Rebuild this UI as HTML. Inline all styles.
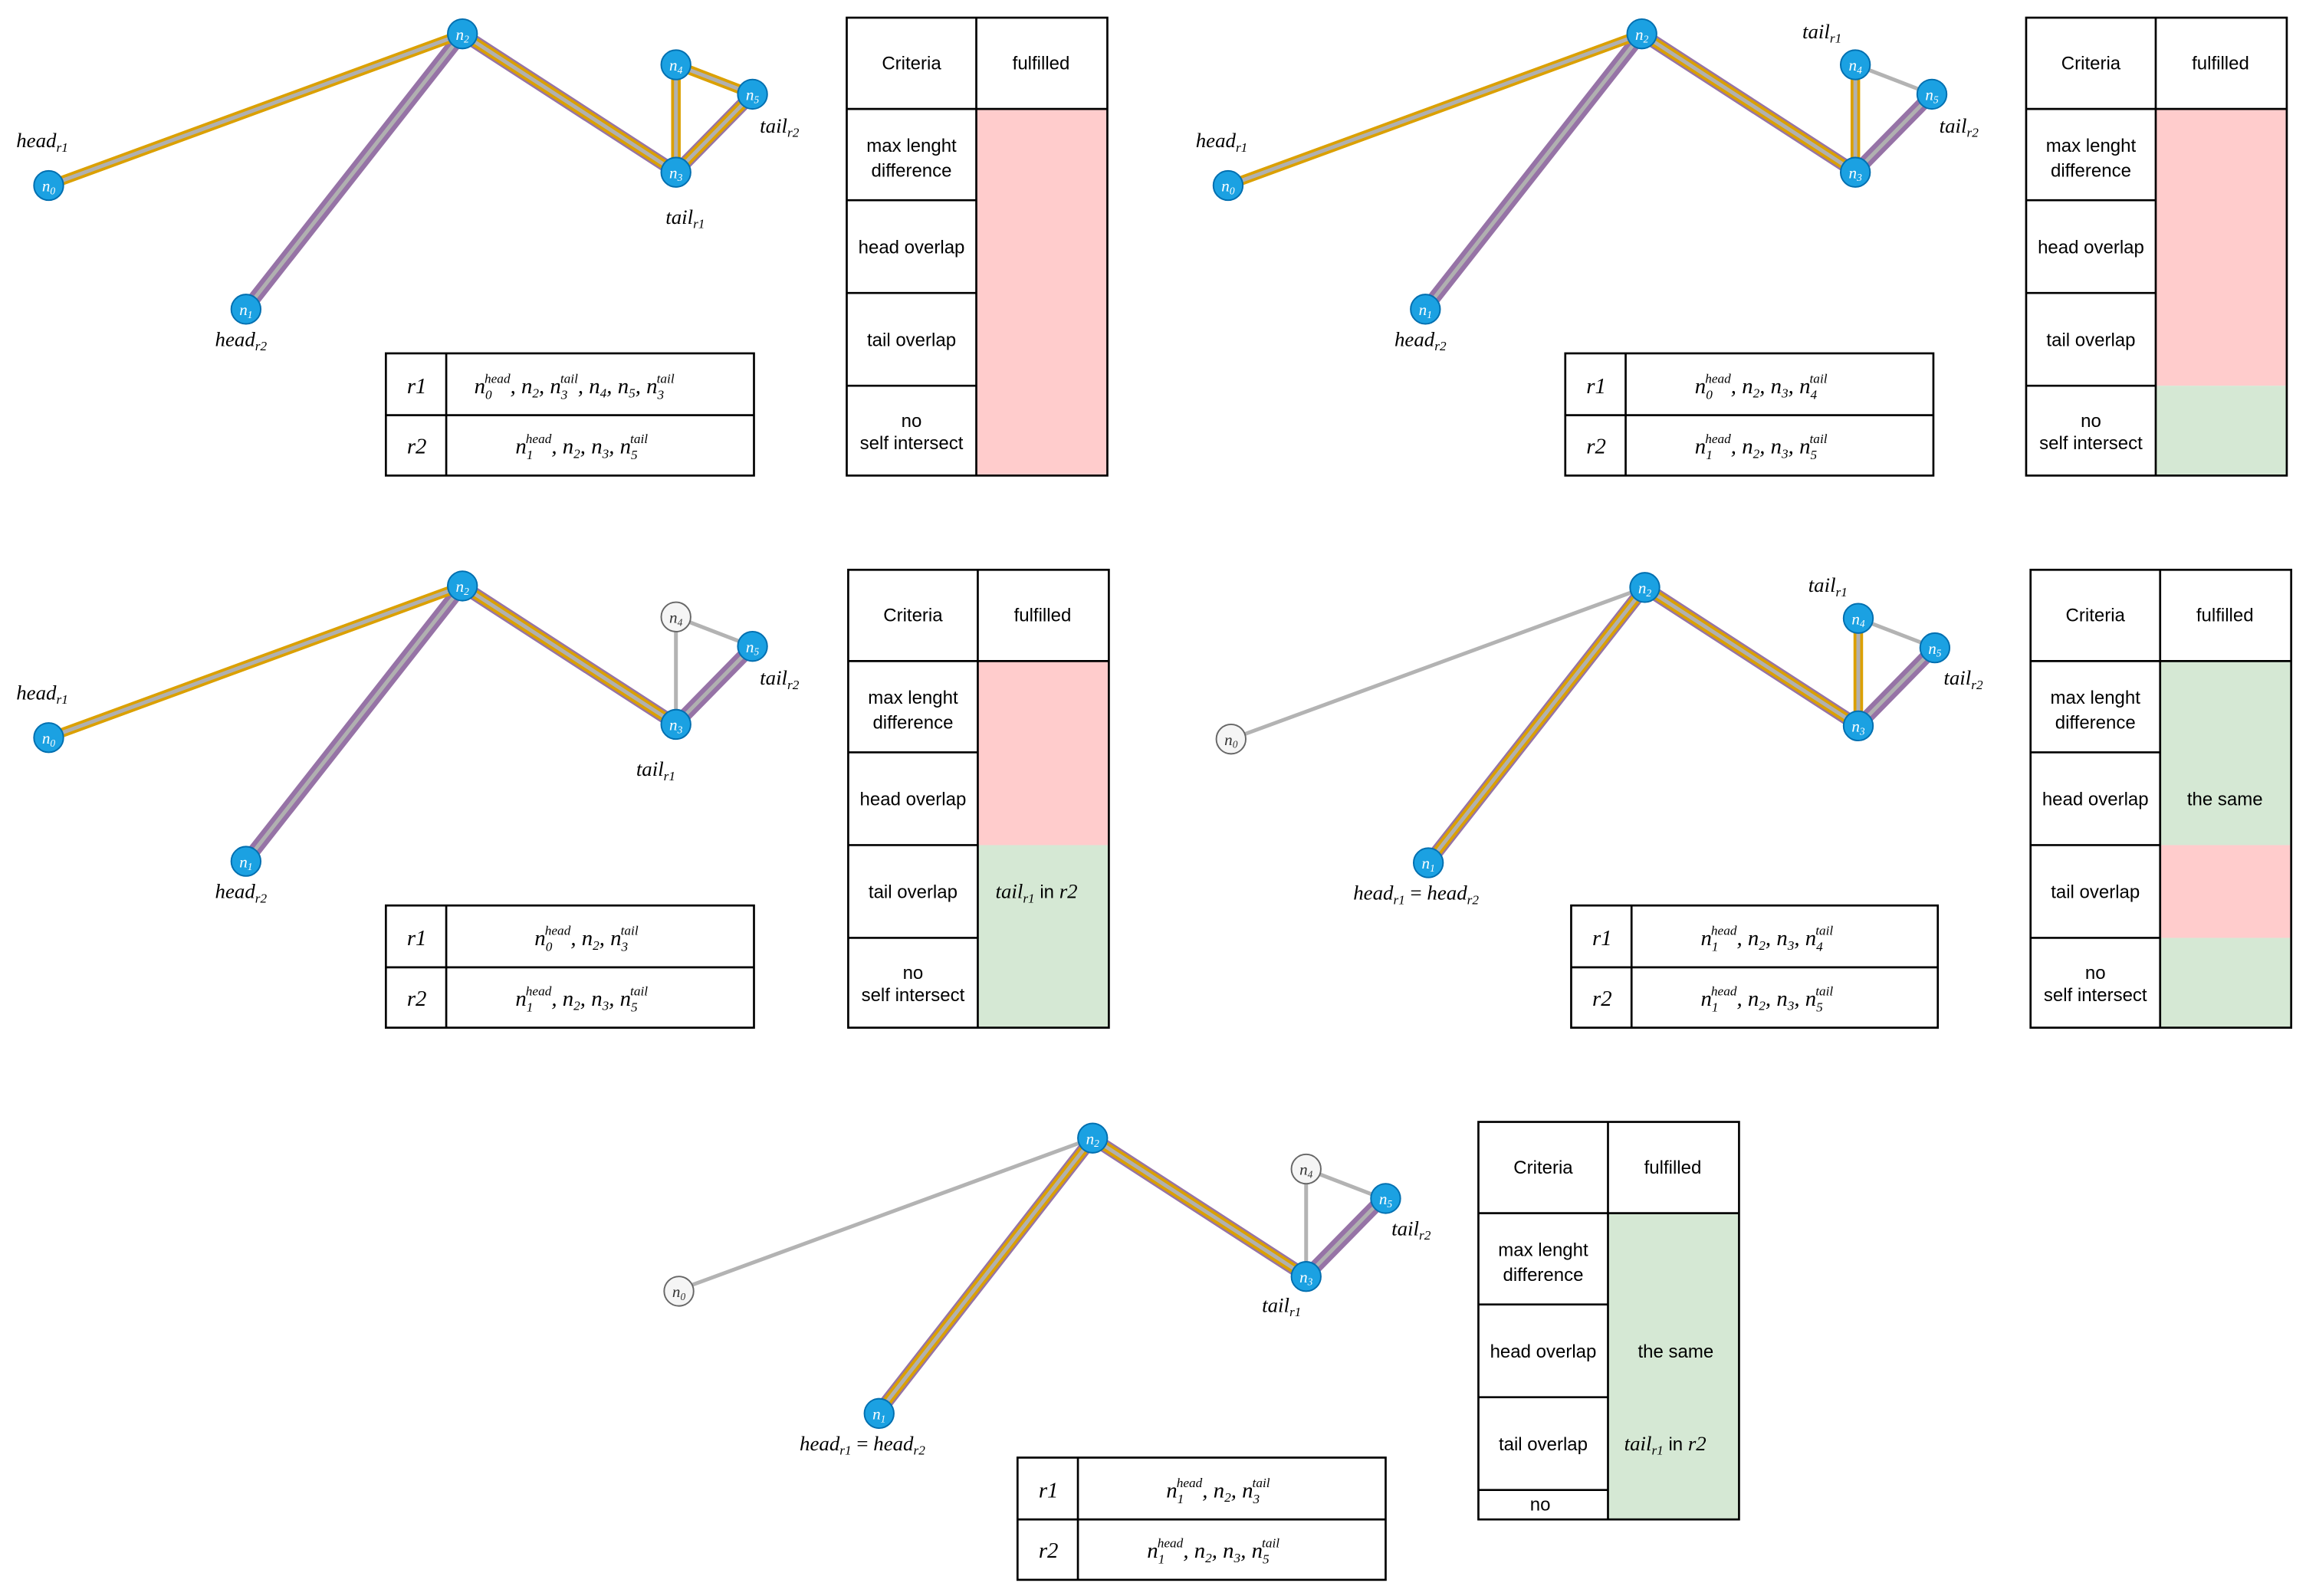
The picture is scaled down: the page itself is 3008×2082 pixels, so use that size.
<!DOCTYPE html>
<html><head><meta charset="utf-8"><style>
html,body{margin:0;padding:0;background:#fff}
svg{display:block}
.m{font-family:"Liberation Serif",serif;font-style:italic;fill:#000}
.s{font-family:"Liberation Sans",sans-serif;fill:#000;font-size:12.5px;text-anchor:middle}
.nl{font-family:"Liberation Serif",serif;font-style:italic;fill:#fff;font-size:11px;text-anchor:middle}
.nw{fill:#333}
.pg{fill:none;stroke:#b3b3b3;stroke-width:2.6}
.pp{fill:none;stroke:#9673a6;stroke-width:9}
.po{fill:none;stroke:#dba000;stroke-width:6.5}
.pc{fill:none;stroke:#b0b0b0;stroke-width:2.6}
.nd{fill:#1ba1e2;stroke:#006eaf;stroke-width:1}
.ndw{fill:#f5f5f5;stroke:#666;stroke-width:1}
.tb{fill:#fff;stroke:#000;stroke-width:1.4}
</style></head><body>
<svg width="3008" height="2082" viewBox="0 0 1566 1084" xmlns="http://www.w3.org/2000/svg">
<defs>
<g id="crit">
<rect x="575" y="12" width="177" height="311" class="tb"/>
</g>
</defs>

<!-- PANEL 1 -->
<g transform="translate(0,0)">
<path class="pp" d="M167,210L314,23L459,117L511,64"/>
<path class="po" d="M33,126L314,23L459,117L459,44L511,64L459,117"/>
<path class="pc" d="M33,126L314,23L459,117L459,44L511,64L459,117M167,210L314,23"/>
<circle cx="33" cy="126" r="10" class="nd"/><text x="33" y="130" class="nl">n<tspan font-size="7" dy="2">0</tspan></text>
<circle cx="167" cy="210" r="10" class="nd"/><text x="167" y="214" class="nl">n<tspan font-size="7" dy="2">1</tspan></text>
<circle cx="314" cy="23" r="10" class="nd"/><text x="314" y="27" class="nl">n<tspan font-size="7" dy="2">2</tspan></text>
<circle cx="459" cy="117" r="10" class="nd"/><text x="459" y="121" class="nl">n<tspan font-size="7" dy="2">3</tspan></text>
<circle cx="459" cy="44" r="10" class="nd"/><text x="459" y="48" class="nl">n<tspan font-size="7" dy="2">4</tspan></text>
<circle cx="511" cy="64" r="10" class="nd"/><text x="511" y="68" class="nl">n<tspan font-size="7" dy="2">5</tspan></text>
<text x="11" y="100" class="m" font-size="14">head<tspan font-size="9" dy="3">r1</tspan></text>
<text x="146" y="235" class="m" font-size="14">head<tspan font-size="9" dy="3">r2</tspan></text>
<text x="452" y="152" class="m" font-size="14">tail<tspan font-size="9" dy="3">r1</tspan></text>
<text x="516" y="90" class="m" font-size="14">tail<tspan font-size="9" dy="3">r2</tspan></text>
<rect x="262" y="240" width="250" height="83" class="tb"/><line x1="303" y1="240" x2="303" y2="323" stroke="#000" stroke-width="1.4"/><line x1="262" y1="282" x2="512" y2="282" stroke="#000" stroke-width="1.4"/>
<text x="283" y="267" class="m" font-size="15" text-anchor="middle">r1</text>
<text x="283" y="308" class="m" font-size="15" text-anchor="middle">r2</text>
<text x="322" y="267" class="m" font-size="15">n<tspan font-size="9" dy="4">0</tspan><tspan font-size="9" dy="-11" dx="-5">head</tspan><tspan dy="7">, n</tspan><tspan font-size="9" dy="3">2</tspan><tspan dy="-3">, n</tspan><tspan font-size="9" dy="4">3</tspan><tspan font-size="9" dy="-11" dx="-5">tail</tspan><tspan dy="7">, n</tspan><tspan font-size="9" dy="3">4</tspan><tspan dy="-3">, n</tspan><tspan font-size="9" dy="3">5</tspan><tspan dy="-3">, n</tspan><tspan font-size="9" dy="4">3</tspan><tspan font-size="9" dy="-11" dx="-5">tail</tspan></text>
<text x="350" y="308" class="m" font-size="15">n<tspan font-size="9" dy="4">1</tspan><tspan font-size="9" dy="-11" dx="-5">head</tspan><tspan dy="7">, n</tspan><tspan font-size="9" dy="3">2</tspan><tspan dy="-3">, n</tspan><tspan font-size="9" dy="3">3</tspan><tspan dy="-3">, n</tspan><tspan font-size="9" dy="4">5</tspan><tspan font-size="9" dy="-11" dx="-5">tail</tspan></text>
<rect x="663" y="74" width="89" height="249" fill="#ffcccc"/>
<rect x="575" y="12" width="177" height="311" fill="none" stroke="#000" stroke-width="1.4"/>
<path d="M663,12V323M575,74H752M575,136H663M575,199H663M575,262H663" stroke="#000" stroke-width="1.4" fill="none"/>
<text x="619" y="47" class="s">Criteria</text><text x="707" y="47" class="s">fulfilled</text>
<text x="619" y="103" class="s">max lenght</text><text x="619" y="120" class="s">difference</text>
<text x="619" y="172" class="s">head overlap</text>
<text x="619" y="235" class="s">tail overlap</text>
<text x="619" y="290" class="s">no</text><text x="619" y="305" class="s">self intersect</text>
</g>

<!-- PANEL 2 -->
<g transform="translate(801,0)">
<path class="pg" d="M459,44L511,64"/>
<path class="pp" d="M167,210L314,23L459,117L511,64"/>
<path class="po" d="M33,126L314,23L459,117L459,44"/>
<path class="pc" d="M33,126L314,23L459,117L459,44M167,210L314,23M459,117L511,64"/>
<circle cx="33" cy="126" r="10" class="nd"/><text x="33" y="130" class="nl">n<tspan font-size="7" dy="2">0</tspan></text>
<circle cx="167" cy="210" r="10" class="nd"/><text x="167" y="214" class="nl">n<tspan font-size="7" dy="2">1</tspan></text>
<circle cx="314" cy="23" r="10" class="nd"/><text x="314" y="27" class="nl">n<tspan font-size="7" dy="2">2</tspan></text>
<circle cx="459" cy="117" r="10" class="nd"/><text x="459" y="121" class="nl">n<tspan font-size="7" dy="2">3</tspan></text>
<circle cx="459" cy="44" r="10" class="nd"/><text x="459" y="48" class="nl">n<tspan font-size="7" dy="2">4</tspan></text>
<circle cx="511" cy="64" r="10" class="nd"/><text x="511" y="68" class="nl">n<tspan font-size="7" dy="2">5</tspan></text>
<text x="11" y="100" class="m" font-size="14">head<tspan font-size="9" dy="3">r1</tspan></text>
<text x="146" y="235" class="m" font-size="14">head<tspan font-size="9" dy="3">r2</tspan></text>
<text x="423" y="26" class="m" font-size="14">tail<tspan font-size="9" dy="3">r1</tspan></text>
<text x="516" y="90" class="m" font-size="14">tail<tspan font-size="9" dy="3">r2</tspan></text>
<rect x="262" y="240" width="250" height="83" class="tb"/><line x1="303" y1="240" x2="303" y2="323" stroke="#000" stroke-width="1.4"/><line x1="262" y1="282" x2="512" y2="282" stroke="#000" stroke-width="1.4"/>
<text x="283" y="267" class="m" font-size="15" text-anchor="middle">r1</text>
<text x="283" y="308" class="m" font-size="15" text-anchor="middle">r2</text>
<text x="350" y="267" class="m" font-size="15">n<tspan font-size="9" dy="4">0</tspan><tspan font-size="9" dy="-11" dx="-5">head</tspan><tspan dy="7">, n</tspan><tspan font-size="9" dy="3">2</tspan><tspan dy="-3">, n</tspan><tspan font-size="9" dy="3">3</tspan><tspan dy="-3">, n</tspan><tspan font-size="9" dy="4">4</tspan><tspan font-size="9" dy="-11" dx="-5">tail</tspan></text>
<text x="350" y="308" class="m" font-size="15">n<tspan font-size="9" dy="4">1</tspan><tspan font-size="9" dy="-11" dx="-5">head</tspan><tspan dy="7">, n</tspan><tspan font-size="9" dy="3">2</tspan><tspan dy="-3">, n</tspan><tspan font-size="9" dy="3">3</tspan><tspan dy="-3">, n</tspan><tspan font-size="9" dy="4">5</tspan><tspan font-size="9" dy="-11" dx="-5">tail</tspan></text>
<rect x="663" y="74" width="89" height="188" fill="#ffcccc"/>
<rect x="663" y="262" width="89" height="61" fill="#d5e8d4"/>
<rect x="575" y="12" width="177" height="311" fill="none" stroke="#000" stroke-width="1.4"/>
<path d="M663,12V323M575,74H752M575,136H663M575,199H663M575,262H663" stroke="#000" stroke-width="1.4" fill="none"/>
<text x="619" y="47" class="s">Criteria</text><text x="707" y="47" class="s">fulfilled</text>
<text x="619" y="103" class="s">max lenght</text><text x="619" y="120" class="s">difference</text>
<text x="619" y="172" class="s">head overlap</text>
<text x="619" y="235" class="s">tail overlap</text>
<text x="619" y="290" class="s">no</text><text x="619" y="305" class="s">self intersect</text>
</g>

<!-- PANEL 3 -->
<g transform="translate(0,375)">
<path class="pg" d="M459,117L459,44L511,64"/>
<path class="pp" d="M167,210L314,23L459,117L511,64"/>
<path class="po" d="M33,126L314,23L459,117"/>
<path class="pc" d="M33,126L314,23L459,117L511,64M167,210L314,23"/>
<circle cx="33" cy="126" r="10" class="nd"/><text x="33" y="130" class="nl">n<tspan font-size="7" dy="2">0</tspan></text>
<circle cx="167" cy="210" r="10" class="nd"/><text x="167" y="214" class="nl">n<tspan font-size="7" dy="2">1</tspan></text>
<circle cx="314" cy="23" r="10" class="nd"/><text x="314" y="27" class="nl">n<tspan font-size="7" dy="2">2</tspan></text>
<circle cx="459" cy="117" r="10" class="nd"/><text x="459" y="121" class="nl">n<tspan font-size="7" dy="2">3</tspan></text>
<circle cx="459" cy="44" r="10" class="ndw"/><text x="459" y="48" class="nl nw">n<tspan font-size="7" dy="2">4</tspan></text>
<circle cx="511" cy="64" r="10" class="nd"/><text x="511" y="68" class="nl">n<tspan font-size="7" dy="2">5</tspan></text>
<text x="11" y="100" class="m" font-size="14">head<tspan font-size="9" dy="3">r1</tspan></text>
<text x="146" y="235" class="m" font-size="14">head<tspan font-size="9" dy="3">r2</tspan></text>
<text x="432" y="152" class="m" font-size="14">tail<tspan font-size="9" dy="3">r1</tspan></text>
<text x="516" y="90" class="m" font-size="14">tail<tspan font-size="9" dy="3">r2</tspan></text>
<rect x="262" y="240" width="250" height="83" class="tb"/><line x1="303" y1="240" x2="303" y2="323" stroke="#000" stroke-width="1.4"/><line x1="262" y1="282" x2="512" y2="282" stroke="#000" stroke-width="1.4"/>
<text x="283" y="267" class="m" font-size="15" text-anchor="middle">r1</text>
<text x="283" y="308" class="m" font-size="15" text-anchor="middle">r2</text>
<text x="363" y="267" class="m" font-size="15">n<tspan font-size="9" dy="4">0</tspan><tspan font-size="9" dy="-11" dx="-5">head</tspan><tspan dy="7">, n</tspan><tspan font-size="9" dy="3">2</tspan><tspan dy="-3">, n</tspan><tspan font-size="9" dy="4">3</tspan><tspan font-size="9" dy="-11" dx="-5">tail</tspan></text>
<text x="350" y="308" class="m" font-size="15">n<tspan font-size="9" dy="4">1</tspan><tspan font-size="9" dy="-11" dx="-5">head</tspan><tspan dy="7">, n</tspan><tspan font-size="9" dy="3">2</tspan><tspan dy="-3">, n</tspan><tspan font-size="9" dy="3">3</tspan><tspan dy="-3">, n</tspan><tspan font-size="9" dy="4">5</tspan><tspan font-size="9" dy="-11" dx="-5">tail</tspan></text>
<g transform="translate(1,0)">
<rect x="663" y="74" width="89" height="125" fill="#ffcccc"/>
<rect x="663" y="199" width="89" height="124" fill="#d5e8d4"/>
<rect x="575" y="12" width="177" height="311" fill="none" stroke="#000" stroke-width="1.4"/>
<path d="M663,12V323M575,74H752M575,136H663M575,199H663M575,262H663" stroke="#000" stroke-width="1.4" fill="none"/>
<text x="619" y="47" class="s">Criteria</text><text x="707" y="47" class="s">fulfilled</text>
<text x="619" y="103" class="s">max lenght</text><text x="619" y="120" class="s">difference</text>
<text x="619" y="172" class="s">head overlap</text>
<text x="619" y="235" class="s">tail overlap</text>
<text x="619" y="290" class="s">no</text><text x="619" y="305" class="s">self intersect</text>
<text x="675" y="235" class="m" font-size="14">tail<tspan font-size="9" dy="3">r1</tspan><tspan dy="-3" font-style="normal" font-family="Liberation Sans" font-size="12.5"> in </tspan>r2</text>
</g>
</g>

<!-- PANEL 4 -->
<g transform="translate(803,376)">
<path class="pg" d="M33,126L314,23M459,44L511,64"/>
<path class="pp" d="M167,210L314,23L459,117L511,64"/>
<path class="po" d="M167,210L314,23L459,117L459,44"/>
<path class="pc" d="M167,210L314,23L459,117L459,44M459,117L511,64"/>
<circle cx="33" cy="126" r="10" class="ndw"/><text x="33" y="130" class="nl nw">n<tspan font-size="7" dy="2">0</tspan></text>
<circle cx="167" cy="210" r="10" class="nd"/><text x="167" y="214" class="nl">n<tspan font-size="7" dy="2">1</tspan></text>
<circle cx="314" cy="23" r="10" class="nd"/><text x="314" y="27" class="nl">n<tspan font-size="7" dy="2">2</tspan></text>
<circle cx="459" cy="117" r="10" class="nd"/><text x="459" y="121" class="nl">n<tspan font-size="7" dy="2">3</tspan></text>
<circle cx="459" cy="44" r="10" class="nd"/><text x="459" y="48" class="nl">n<tspan font-size="7" dy="2">4</tspan></text>
<circle cx="511" cy="64" r="10" class="nd"/><text x="511" y="68" class="nl">n<tspan font-size="7" dy="2">5</tspan></text>
<text x="116" y="235" class="m" font-size="14">head<tspan font-size="9" dy="3">r1</tspan><tspan dy="-3" font-style="normal"> = </tspan>head<tspan font-size="9" dy="3">r2</tspan></text>
<text x="425" y="26" class="m" font-size="14">tail<tspan font-size="9" dy="3">r1</tspan></text>
<text x="517" y="89" class="m" font-size="14">tail<tspan font-size="9" dy="3">r2</tspan></text>
<rect x="264" y="239" width="249" height="83" class="tb"/><line x1="305" y1="239" x2="305" y2="322" stroke="#000" stroke-width="1.4"/><line x1="264" y1="281" x2="513" y2="281" stroke="#000" stroke-width="1.4"/>
<text x="285" y="266" class="m" font-size="15" text-anchor="middle">r1</text>
<text x="285" y="307" class="m" font-size="15" text-anchor="middle">r2</text>
<text x="352" y="266" class="m" font-size="15">n<tspan font-size="9" dy="4">1</tspan><tspan font-size="9" dy="-11" dx="-5">head</tspan><tspan dy="7">, n</tspan><tspan font-size="9" dy="3">2</tspan><tspan dy="-3">, n</tspan><tspan font-size="9" dy="3">3</tspan><tspan dy="-3">, n</tspan><tspan font-size="9" dy="4">4</tspan><tspan font-size="9" dy="-11" dx="-5">tail</tspan></text>
<text x="352" y="307" class="m" font-size="15">n<tspan font-size="9" dy="4">1</tspan><tspan font-size="9" dy="-11" dx="-5">head</tspan><tspan dy="7">, n</tspan><tspan font-size="9" dy="3">2</tspan><tspan dy="-3">, n</tspan><tspan font-size="9" dy="3">3</tspan><tspan dy="-3">, n</tspan><tspan font-size="9" dy="4">5</tspan><tspan font-size="9" dy="-11" dx="-5">tail</tspan></text>
<g transform="translate(1,-1)">
<rect x="663" y="74" width="89" height="125" fill="#d5e8d4"/>
<rect x="663" y="199" width="89" height="63" fill="#ffcccc"/>
<rect x="663" y="262" width="89" height="61" fill="#d5e8d4"/>
<rect x="575" y="12" width="177" height="311" fill="none" stroke="#000" stroke-width="1.4"/>
<path d="M663,12V323M575,74H752M575,136H663M575,199H663M575,262H663" stroke="#000" stroke-width="1.4" fill="none"/>
<text x="619" y="47" class="s">Criteria</text><text x="707" y="47" class="s">fulfilled</text>
<text x="619" y="103" class="s">max lenght</text><text x="619" y="120" class="s">difference</text>
<text x="619" y="172" class="s">head overlap</text>
<text x="619" y="235" class="s">tail overlap</text>
<text x="619" y="290" class="s">no</text><text x="619" y="305" class="s">self intersect</text>
<text x="707" y="172" class="s">the same</text>
</g>
</g>

<!-- PANEL 5 -->
<g transform="translate(428,750)">
<path class="pg" d="M33,126L314,23M459,117L459,44L511,64"/>
<path class="pp" d="M168,210L314,23L459,117L511,64"/>
<path class="po" d="M168,210L314,23L459,117"/>
<path class="pc" d="M168,210L314,23L459,117L511,64"/>
<circle cx="33" cy="127" r="10" class="ndw"/><text x="33" y="131" class="nl nw">n<tspan font-size="7" dy="2">0</tspan></text>
<circle cx="169" cy="210" r="10" class="nd"/><text x="169" y="214" class="nl">n<tspan font-size="7" dy="2">1</tspan></text>
<circle cx="314" cy="23" r="10" class="nd"/><text x="314" y="27" class="nl">n<tspan font-size="7" dy="2">2</tspan></text>
<circle cx="459" cy="117" r="10" class="nd"/><text x="459" y="121" class="nl">n<tspan font-size="7" dy="2">3</tspan></text>
<circle cx="459" cy="44" r="10" class="ndw"/><text x="459" y="48" class="nl nw">n<tspan font-size="7" dy="2">4</tspan></text>
<circle cx="513" cy="64" r="10" class="nd"/><text x="513" y="68" class="nl">n<tspan font-size="7" dy="2">5</tspan></text>
<text x="115" y="235" class="m" font-size="14">head<tspan font-size="9" dy="3">r1</tspan><tspan dy="-3" font-style="normal"> = </tspan>head<tspan font-size="9" dy="3">r2</tspan></text>
<text x="429" y="141" class="m" font-size="14">tail<tspan font-size="9" dy="3">r1</tspan></text>
<text x="517" y="89" class="m" font-size="14">tail<tspan font-size="9" dy="3">r2</tspan></text>
<rect x="263" y="240" width="250" height="83" class="tb"/><line x1="304" y1="240" x2="304" y2="323" stroke="#000" stroke-width="1.4"/><line x1="263" y1="282" x2="513" y2="282" stroke="#000" stroke-width="1.4"/>
<text x="284" y="267" class="m" font-size="15" text-anchor="middle">r1</text>
<text x="284" y="308" class="m" font-size="15" text-anchor="middle">r2</text>
<text x="364" y="267" class="m" font-size="15">n<tspan font-size="9" dy="4">1</tspan><tspan font-size="9" dy="-11" dx="-5">head</tspan><tspan dy="7">, n</tspan><tspan font-size="9" dy="3">2</tspan><tspan dy="-3">, n</tspan><tspan font-size="9" dy="4">3</tspan><tspan font-size="9" dy="-11" dx="-5">tail</tspan></text>
<text x="351" y="308" class="m" font-size="15">n<tspan font-size="9" dy="4">1</tspan><tspan font-size="9" dy="-11" dx="-5">head</tspan><tspan dy="7">, n</tspan><tspan font-size="9" dy="3">2</tspan><tspan dy="-3">, n</tspan><tspan font-size="9" dy="3">3</tspan><tspan dy="-3">, n</tspan><tspan font-size="9" dy="4">5</tspan><tspan font-size="9" dy="-11" dx="-5">tail</tspan></text>
<g transform="translate(1,0)">
<rect x="663" y="74" width="89" height="208" fill="#d5e8d4"/>
<rect x="575" y="12" width="177" height="270" fill="none" stroke="#000" stroke-width="1.4"/>
<path d="M663,12V282M575,74H752M575,136H663M575,199H663M575,262H663" stroke="#000" stroke-width="1.4" fill="none"/>
<text x="619" y="47" class="s">Criteria</text><text x="707" y="47" class="s">fulfilled</text>
<text x="619" y="103" class="s">max lenght</text><text x="619" y="120" class="s">difference</text>
<text x="619" y="172" class="s">head overlap</text>
<text x="619" y="235" class="s">tail overlap</text>
<text x="617" y="276" class="s">no</text>
<text x="709" y="172" class="s">the same</text>
<text x="674" y="235" class="m" font-size="14">tail<tspan font-size="9" dy="3">r1</tspan><tspan dy="-3" font-style="normal" font-family="Liberation Sans" font-size="12.5"> in </tspan>r2</text>
</g>
</g>
</svg>
</body></html>
